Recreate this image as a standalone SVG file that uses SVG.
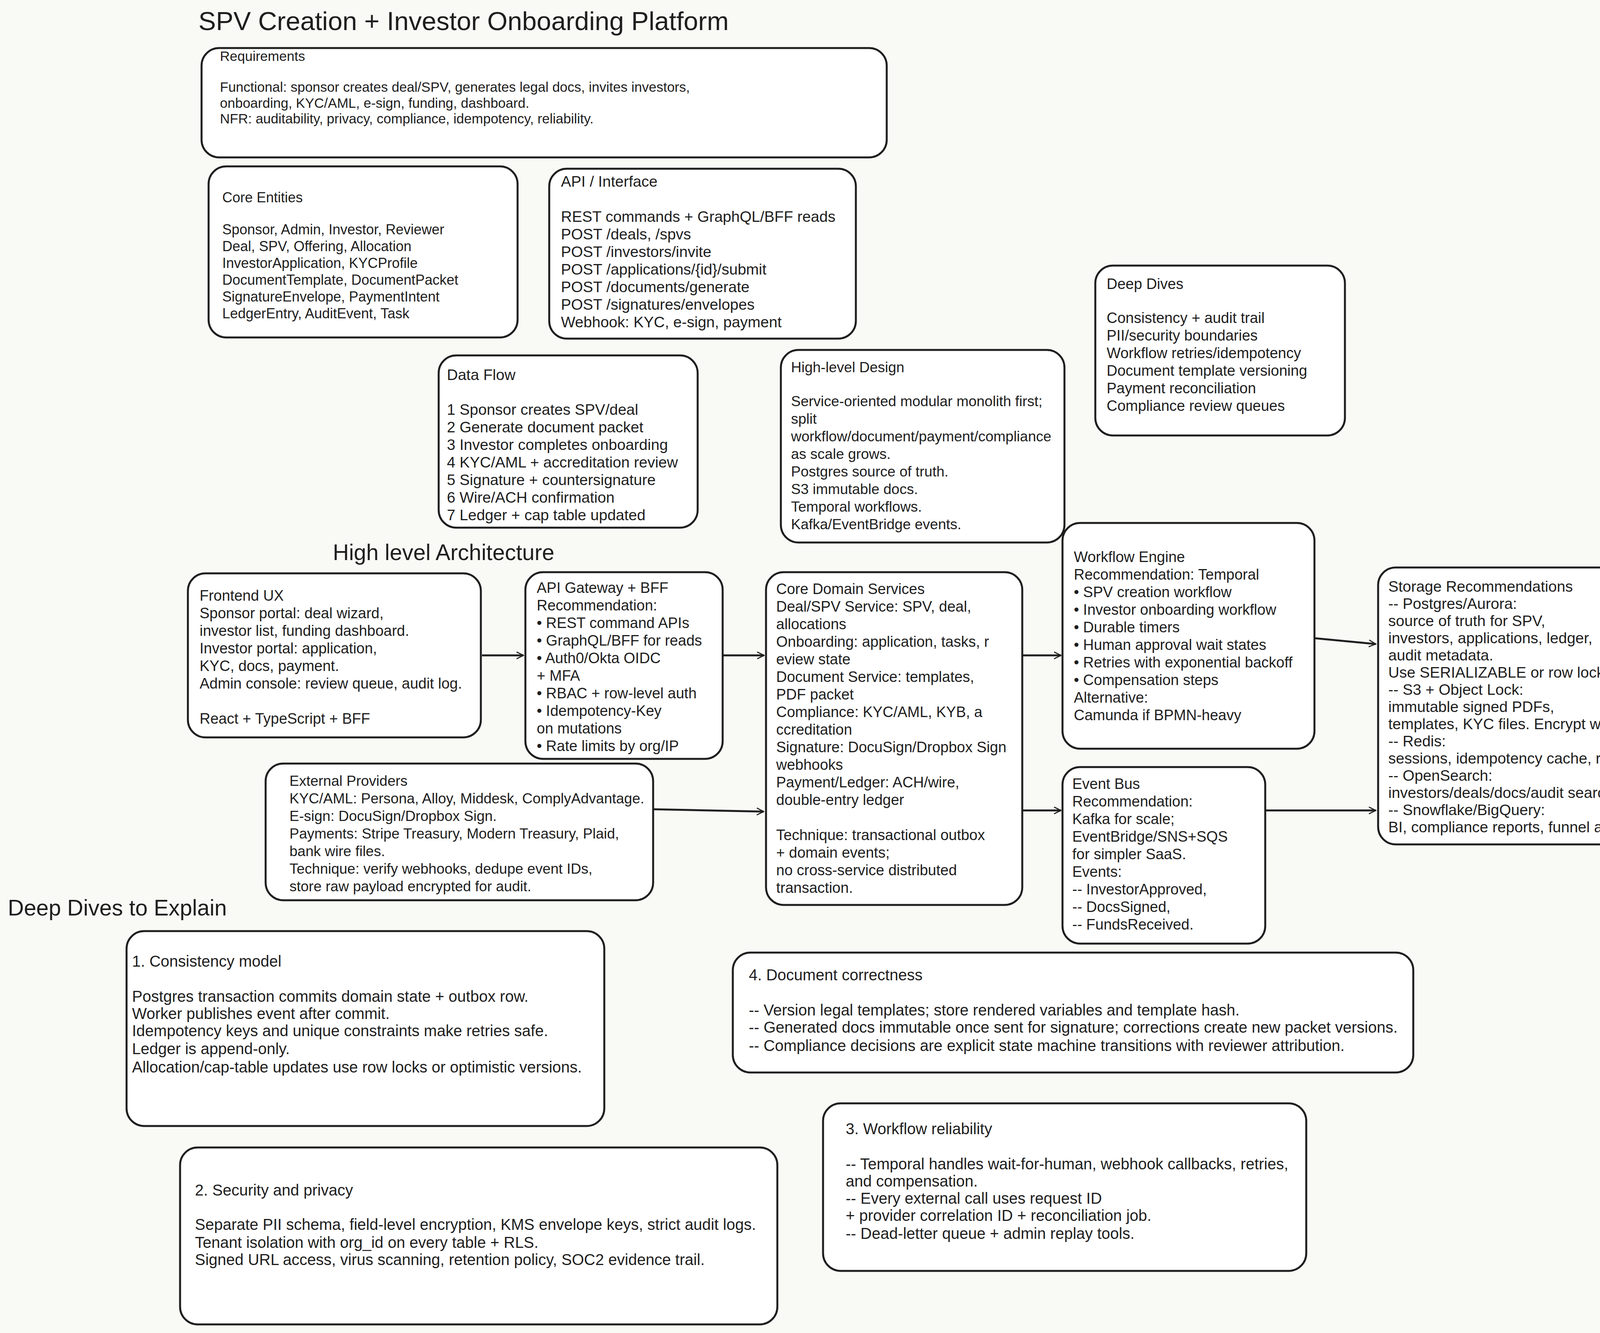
<svg xmlns="http://www.w3.org/2000/svg" width="4576" height="3413" viewBox="0 0 4576 3413">
<defs>
<style>
text{font-family:"Liberation Sans",Arial,sans-serif;fill:#1e1e1e}
.b{stroke:#1e1e1e;stroke-width:5;fill:#ffffff}
.c{stroke:#1e1e1e;stroke-width:5;fill:none}
</style>
<marker id="ah" viewBox="0 0 20 20" refX="18" refY="10" markerWidth="22" markerHeight="22" markerUnits="userSpaceOnUse" orient="auto"><path d="M2,2 L18,10 L2,18" fill="none" stroke="#1e1e1e" stroke-width="2.5"/></marker>
</defs>
<rect width="4576" height="3413" fill="#f9f9f6"/>
<text font-size="67" x="508" y="77">SPV Creation + Investor Onboarding Platform</text>
<text font-size="57" x="852" y="1434">High level Architecture</text>
<text font-size="57" x="20" y="2344">Deep Dives to Explain</text>

<g id="requirements"><rect class="b" x="516" y="123" width="1754" height="280" rx="45"/>
<text font-size="35"><tspan x="563" y="156">Requirements</tspan><tspan x="563" y="235">Functional: sponsor creates deal/SPV, generates legal docs, invites investors,</tspan><tspan x="563" y="276">onboarding,  KYC/AML, e-sign,  funding, dashboard.</tspan><tspan x="563" y="316">NFR: auditability, privacy, compliance, idempotency, reliability.</tspan></text></g>

<g id="core-entities"><rect class="b" x="534" y="426" width="791" height="438" rx="45"/>
<text font-size="36"><tspan x="569" y="518">Core Entities</tspan><tspan x="569" y="600">Sponsor, Admin, Investor, Reviewer</tspan><tspan x="569" y="643">Deal, SPV, Offering, Allocation</tspan><tspan x="569" y="686">InvestorApplication, KYCProfile</tspan><tspan x="569" y="729">DocumentTemplate, DocumentPacket</tspan><tspan x="569" y="772">SignatureEnvelope, PaymentIntent</tspan><tspan x="569" y="815">LedgerEntry, AuditEvent, Task</tspan></text></g>

<g id="api-interface"><rect class="b" x="1406" y="432" width="785" height="435" rx="45"/>
<text font-size="39"><tspan x="1436" y="478">API / Interface</tspan><tspan x="1436" y="568">REST commands + GraphQL/BFF reads</tspan><tspan x="1436" y="613">POST /deals, /spvs</tspan><tspan x="1436" y="658">POST /investors/invite</tspan><tspan x="1436" y="703">POST /applications/{id}/submit</tspan><tspan x="1436" y="748">POST /documents/generate</tspan><tspan x="1436" y="793">POST /signatures/envelopes</tspan><tspan x="1436" y="838">Webhook: KYC, e-sign, payment</tspan></text></g>

<g id="deep-dives"><rect class="b" x="2804" y="680" width="639" height="435" rx="45"/>
<text font-size="38"><tspan x="2833" y="740">Deep Dives</tspan><tspan x="2833" y="827">Consistency + audit trail</tspan><tspan x="2833" y="872">PII/security boundaries</tspan><tspan x="2833" y="917">Workflow retries/idempotency</tspan><tspan x="2833" y="962">Document template versioning</tspan><tspan x="2833" y="1007">Payment reconciliation</tspan><tspan x="2833" y="1052">Compliance review queues</tspan></text></g>

<g id="data-flow"><rect class="b" x="1123" y="910" width="663" height="441" rx="45"/>
<text font-size="39"><tspan x="1144" y="973">Data Flow</tspan><tspan x="1144" y="1062">1 Sponsor creates SPV/deal</tspan><tspan x="1144" y="1107">2 Generate document packet</tspan><tspan x="1144" y="1152">3 Investor completes onboarding</tspan><tspan x="1144" y="1197">4 KYC/AML + accreditation review</tspan><tspan x="1144" y="1242">5 Signature + countersignature</tspan><tspan x="1144" y="1287">6 Wire/ACH confirmation</tspan><tspan x="1144" y="1332">7 Ledger + cap table updated</tspan></text></g>

<g id="high-level-design"><rect class="b" x="1999" y="896" width="726" height="493" rx="45"/>
<text font-size="37"><tspan x="2025" y="953">High-level Design</tspan><tspan x="2025" y="1040">Service-oriented modular monolith first;</tspan><tspan x="2025" y="1085">split</tspan><tspan x="2025" y="1130">workflow/document/payment/compliance</tspan><tspan x="2025" y="1175">as scale grows.</tspan><tspan x="2025" y="1220">Postgres source of truth.</tspan><tspan x="2025" y="1265">S3 immutable docs.</tspan><tspan x="2025" y="1310">Temporal workflows.</tspan><tspan x="2025" y="1355">Kafka/EventBridge events.</tspan></text></g>

<g id="frontend"><rect class="b" x="481" y="1468" width="750" height="420" rx="45" fill="#f8f9fb"/>
<text font-size="38"><tspan x="511" y="1538">Frontend UX</tspan><tspan x="511" y="1583">Sponsor portal: deal wizard,</tspan><tspan x="511" y="1628">investor list, funding dashboard.</tspan><tspan x="511" y="1673">Investor portal: application,</tspan><tspan x="511" y="1718">KYC, docs, payment.</tspan><tspan x="511" y="1763">Admin console: review queue, audit log.</tspan><tspan x="511" y="1853">React + TypeScript + BFF</tspan></text></g>

<g id="api-gateway"><rect class="b" x="1345" y="1465" width="505" height="478" rx="45" fill="#e9fafc"/>
<text font-size="38"><tspan x="1374" y="1518">API Gateway + BFF</tspan><tspan x="1374" y="1563">Recommendation:</tspan><tspan x="1374" y="1608">• REST command APIs</tspan><tspan x="1374" y="1653">• GraphQL/BFF for reads</tspan><tspan x="1374" y="1698">• Auth0/Okta OIDC</tspan><tspan x="1374" y="1743">+ MFA</tspan><tspan x="1374" y="1788">• RBAC + row-level auth</tspan><tspan x="1374" y="1833">• Idempotency-Key</tspan><tspan x="1374" y="1878">on mutations</tspan><tspan x="1374" y="1923">• Rate limits by org/IP</tspan></text></g>

<g id="core-domain"><rect class="b" x="1961" y="1465" width="656" height="852" rx="45"/>
<text font-size="38"><tspan x="1987" y="1521">Core Domain Services</tspan><tspan x="1987" y="1566">Deal/SPV Service: SPV, deal,</tspan><tspan x="1987" y="1611">allocations</tspan><tspan x="1987" y="1656">Onboarding: application, tasks, r</tspan><tspan x="1987" y="1701">eview state</tspan><tspan x="1987" y="1746">Document Service: templates,</tspan><tspan x="1987" y="1791">PDF packet</tspan><tspan x="1987" y="1836">Compliance: KYC/AML, KYB, a</tspan><tspan x="1987" y="1881">ccreditation</tspan><tspan x="1987" y="1926">Signature: DocuSign/Dropbox Sign</tspan><tspan x="1987" y="1971">webhooks</tspan><tspan x="1987" y="2016">Payment/Ledger: ACH/wire,</tspan><tspan x="1987" y="2061">double-entry ledger</tspan><tspan x="1987" y="2151">Technique: transactional outbox</tspan><tspan x="1987" y="2196">+ domain events;</tspan><tspan x="1987" y="2241">no cross-service distributed</tspan><tspan x="1987" y="2286">transaction.</tspan></text></g>

<g id="workflow-engine"><rect class="b" x="2720" y="1339" width="645" height="578" rx="45" fill="#fff4ea"/>
<text font-size="38"><tspan x="2749" y="1439">Workflow Engine</tspan><tspan x="2749" y="1484">Recommendation: Temporal</tspan><tspan x="2749" y="1529">• SPV creation workflow</tspan><tspan x="2749" y="1574">• Investor onboarding workflow</tspan><tspan x="2749" y="1619">• Durable timers</tspan><tspan x="2749" y="1664">• Human approval wait states</tspan><tspan x="2749" y="1709">• Retries with exponential backoff</tspan><tspan x="2749" y="1754">• Compensation steps</tspan><tspan x="2749" y="1799">Alternative:</tspan><tspan x="2749" y="1844">Camunda if BPMN-heavy</tspan></text></g>

<g id="event-bus"><rect class="b" x="2720" y="1964" width="519" height="452" rx="45" fill="#fff4ea"/>
<text font-size="38"><tspan x="2745" y="2020">Event Bus</tspan><tspan x="2745" y="2065">Recommendation:</tspan><tspan x="2745" y="2110">Kafka for scale;</tspan><tspan x="2745" y="2155">EventBridge/SNS+SQS</tspan><tspan x="2745" y="2200">for simpler SaaS.</tspan><tspan x="2745" y="2245">Events:</tspan><tspan x="2745" y="2290">-- InvestorApproved,</tspan><tspan x="2745" y="2335">-- DocsSigned,</tspan><tspan x="2745" y="2380">-- FundsReceived.</tspan></text></g>

<g id="storage"><rect class="b" x="3528" y="1453" width="1024" height="709" rx="45" fill="#ebfaef"/>
<text font-size="39"><tspan x="3554" y="1515">Storage Recommendations</tspan><tspan x="3554" y="1559">-- Postgres/Aurora:</tspan><tspan x="3554" y="1603">source of truth for SPV,</tspan><tspan x="3554" y="1647">investors, applications, ledger,</tspan><tspan x="3554" y="1691">audit metadata.</tspan><tspan x="3554" y="1735">Use SERIALIZABLE or row locks for allocations.</tspan><tspan x="3554" y="1779">-- S3 + Object Lock:</tspan><tspan x="3554" y="1823">immutable signed PDFs,</tspan><tspan x="3554" y="1867">templates, KYC files. Encrypt with KMS; signed URLs.</tspan><tspan x="3554" y="1911">-- Redis:</tspan><tspan x="3554" y="1955">sessions, idempotency cache, rate limits, job progress.</tspan><tspan x="3554" y="1999">-- OpenSearch:</tspan><tspan x="3554" y="2043">investors/deals/docs/audit search.</tspan><tspan x="3554" y="2087">-- Snowflake/BigQuery:</tspan><tspan x="3554" y="2131">BI, compliance reports, funnel analytics.</tspan></text></g>

<g id="external-providers"><rect class="b" x="680" y="1955" width="992" height="350" rx="45" fill="#fff0f0"/>
<text font-size="37"><tspan x="741" y="2012">External Providers</tspan><tspan x="741" y="2057">KYC/AML: Persona, Alloy, Middesk, ComplyAdvantage.</tspan><tspan x="741" y="2102">E-sign: DocuSign/Dropbox Sign.</tspan><tspan x="741" y="2147">Payments: Stripe Treasury, Modern Treasury, Plaid,</tspan><tspan x="741" y="2192">bank wire files.</tspan><tspan x="741" y="2237">Technique: verify webhooks, dedupe event IDs,</tspan><tspan x="741" y="2282">store raw payload encrypted for audit.</tspan></text></g>

<g id="dd-consistency"><rect class="b" x="324" y="2384" width="1223" height="499" rx="45" fill="#f8f9fb"/>
<text font-size="40"><tspan x="338" y="2475">1. Consistency model</tspan><tspan x="338" y="2565">Postgres transaction commits domain state + outbox row.</tspan><tspan x="338" y="2609">Worker publishes event after commit.</tspan><tspan x="338" y="2653">Idempotency keys and unique constraints make retries safe.</tspan><tspan x="338" y="2699">Ledger is append-only.</tspan><tspan x="338" y="2746">Allocation/cap-table updates use row locks or optimistic versions.</tspan></text></g>

<g id="dd-security"><rect class="b" x="461" y="2938" width="1529" height="453" rx="45" fill="#f8f9fb"/>
<text font-size="40"><tspan x="499" y="3061">2. Security and privacy</tspan><tspan x="499" y="3149">Separate PII schema, field-level encryption, KMS envelope keys, strict audit logs.</tspan><tspan x="499" y="3195">Tenant isolation with org_id on every table + RLS.</tspan><tspan x="499" y="3239">Signed URL access, virus scanning, retention policy, SOC2 evidence trail.</tspan></text></g>

<g id="dd-workflow"><rect class="b" x="2107" y="2825" width="1237" height="429" rx="45" fill="#f8f9fb"/>
<text font-size="40"><tspan x="2165" y="2904">3. Workflow reliability</tspan><tspan x="2165" y="2994">-- Temporal handles wait-for-human, webhook callbacks, retries,</tspan><tspan x="2165" y="3038">and compensation.</tspan><tspan x="2165" y="3082">-- Every external call uses request ID</tspan><tspan x="2165" y="3126">+ provider correlation ID + reconciliation job.</tspan><tspan x="2165" y="3172">-- Dead-letter queue + admin replay tools.</tspan></text></g>

<g id="dd-documents"><rect class="b" x="1876" y="2439" width="1742" height="307" rx="45" fill="#f8f9fb"/>
<text font-size="40"><tspan x="1917" y="2510">4. Document correctness</tspan><tspan x="1917" y="2600">-- Version legal templates; store rendered variables and template hash.</tspan><tspan x="1917" y="2644">-- Generated docs immutable once sent for signature; corrections create new packet versions.</tspan><tspan x="1917" y="2691">-- Compliance decisions are explicit state machine transitions with reviewer attribution.</tspan></text></g>

<g id="connectors">
<path class="c" marker-end="url(#ah)" d="M1234,1678 L1340,1678"/>
<path class="c" marker-end="url(#ah)" d="M1850,1678 L1956,1678"/>
<path class="c" marker-end="url(#ah)" d="M2617,1678 L2716,1678"/>
<path class="c" marker-end="url(#ah)" d="M1672,2072 L1955,2078"/>
<path class="c" marker-end="url(#ah)" d="M2617,2075 L2716,2075"/>
<path class="c" marker-end="url(#ah)" d="M3365,1634 L3522,1649"/>
<path class="c" marker-end="url(#ah)" d="M3239,2075 L3522,2075"/>
</g>
</svg>
